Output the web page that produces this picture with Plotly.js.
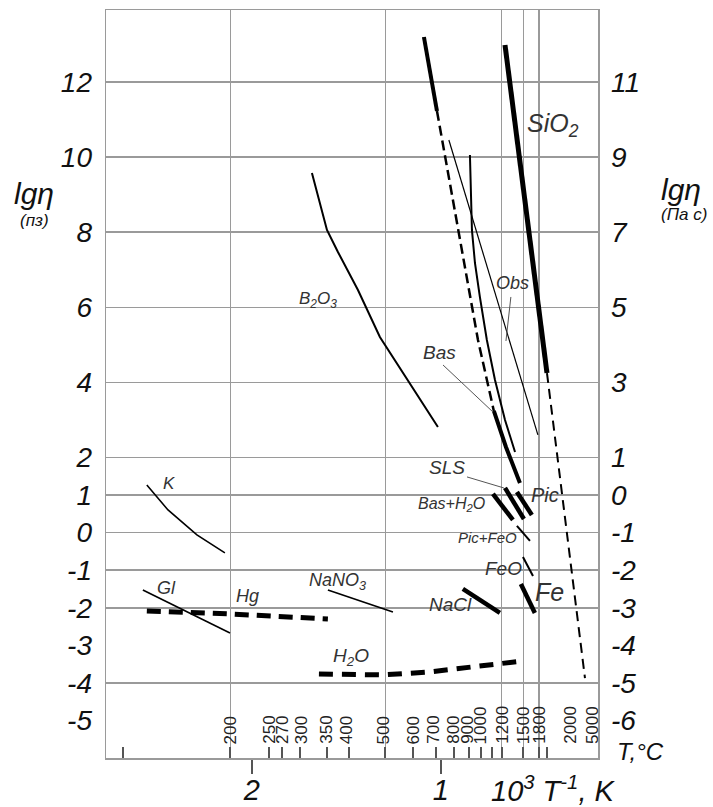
<!DOCTYPE html>
<html>
<head>
<meta charset="utf-8">
<script src="https://cdn.plot.ly/plotly-3.0.1.min.js"></script>
<style>
  html, body { margin: 0; padding: 0; background: #fff; }
  #chart { width: 713px; height: 807px; }
</style>
</head>
<body>
<div id="chart"></div>
<script>
// ---------- data (x = 10^3/T, K^-1 ; y = lg eta, poise) ----------
const sio2SolidX = [0.661, 0.439];
const sio2SolidY = [12.985, 4.25];
const sio2DashX = [0.439, 0.238];
const sio2DashY = [4.25, -3.87];

const basTopX = [1.090, 1.021];
const basTopY = [13.198, 11.228];
const basDashX = [1.021, 0.894, 0.804, 0.720];
const basDashY = [11.228, 7.607, 5.131, 3.241];
const basLowX = [0.720, 0.656, 0.582];
const basLowY = [3.241, 2.282, 1.324];

const midCurveX = [0.8466, 0.8413, 0.836, 0.820, 0.794, 0.757, 0.714, 0.661, 0.608];
const midCurveY = [10.056, 8.858, 8.06, 7.181, 6.276, 5.131, 4.066, 3.001, 2.149];

const obsX = [0.958, 0.720, 0.487];
const obsY = [10.456, 6.463, 2.602];

const b2o3X = [1.6825, 1.640, 1.603, 1.545, 1.439, 1.323, 1.175, 1.016];
const b2o3Y = [9.577, 8.805, 8.06, 7.474, 6.462, 5.211, 4.066, 2.815];

const kX = [2.556, 2.444, 2.291, 2.143];
const kY = [1.270, 0.605, -0.061, -0.540];
const glX = [2.577, 2.116];
const glY = [-1.525, -2.670];
const hgX = [2.556, 2.116, 1.598];
const hgY = [-2.084, -2.164, -2.297];
const nano3X = [1.598, 1.254];
const nano3Y = [-1.525, -2.111];
const h2oX = [1.6455, 1.307, 1.058, 0.847, 0.688, 0.566];
const h2oY = [-3.761, -3.788, -3.708, -3.575, -3.495, -3.415];

const basH2oX = [0.7249, 0.619];
const basH2oY = [1.031, 0.339];
const slsX = [0.661, 0.561];
const slsY = [1.191, 0.365];
const picX = [0.598, 0.519];
const picY = [1.084, 0.472];
const picFeoX = [0.598, 0.529];
const picFeoY = [0.179, -0.221];
const feoX = [0.566, 0.513];
const feoY = [-0.647, -1.152];
const feX = [0.577, 0.503];
const feY = [-1.365, -2.137];
const naclX = [0.884, 0.688];
const naclY = [-1.498, -2.137];

// leader lines
const basLeadX = [0.989, 0.725];
const basLeadY = [4.465, 3.214];
const obsLeadX = [0.630, 0.656];
const obsLeadY = [6.276, 5.104];
const slsLeadX = [0.862, 0.667];
const slsLeadY = [1.484, 1.191];

// axes
const leftLabels = [12, 10, 8, 6, 4, 2, 1, 0, -1, -2, -3, -4, -5];
const rightLabels = [11, 9, 7, 5, 3, 1, 0, -1, -2, -3, -4, -5, -6];
const gridLevels = [12, 10, 8, 6, 4, 2, 1, 0, -1, -2, -4];
const invTicks = [2, 1];
const tempTicksC = [100, 200, 250, 270, 300, 350, 400, 500, 600, 700, 800, 900, 1000, 1100, 1200, 1500, 1800, 2000];
const tempLabelsC = [200, 250, 270, 300, 350, 400, 500, 600, 700, 800, 900, 1000, 1200, 1500, 1800, 2000, 5000];
const tempLabelShift = [0, 0, 0, 1, -1, -3, -2, 0, -3, -1, -2, -1, 0, 0, 0, 23, -2];
const tempGridC = [200, 500, 1200, 1500, 1800];

const curveLabels = [
  {t: 'SiO<sub>2</sub>', x: 0.407, y: 10.855, s: 25},
  {t: 'B<sub>2</sub>O<sub>3</sub>', x: 1.651, y: 6.196, s: 17},
  {t: 'Obs', x: 0.624, y: 6.65, s: 18},
  {t: 'Bas', x: 1.005, y: 4.785, s: 19},
  {t: 'SLS', x: 0.968, y: 1.723, s: 19},
  {t: 'Pic', x: 0.450, y: 1.004, s: 20},
  {t: 'Bas+H<sub>2</sub>O', x: 0.942, y: 0.738, s: 16},
  {t: 'Pic+FeO', x: 0.751, y: -0.141, s: 15},
  {t: 'FeO', x: 0.667, y: -0.966, s: 19},
  {t: 'Fe', x: 0.423, y: -1.578, s: 25},
  {t: 'NaCl', x: 0.947, y: -1.924, s: 19},
  {t: 'K', x: 2.439, y: 1.297, s: 17},
  {t: 'Gl', x: 2.450, y: -1.472, s: 18},
  {t: 'Hg', x: 2.021, y: -1.685, s: 18},
  {t: 'NaNO<sub>3</sub>', x: 1.545, y: -1.312, s: 18},
  {t: 'H<sub>2</sub>O', x: 1.476, y: -3.309, s: 19}
];

// ---------- helpers ----------
const toInv = c => 1000 / (c + 273.15);
const FONT = 'Liberation Sans, Arial, sans-serif';
const X_RANGE = [2.772, 0.169];
const Y_RANGE = [-6.0, 13.917];

function line(x, y, w, dash, color) {
  return {x: x, y: y, type: 'scatter', mode: 'lines', hoverinfo: 'skip', showlegend: false,
          line: {color: color || '#000', width: w, dash: dash || 'solid'}};
}

const traces = [
  line(sio2SolidX, sio2SolidY, 5),
  line(sio2DashX, sio2DashY, 2, '10px,6px'),
  line(basTopX, basTopY, 4),
  line(basDashX, basDashY, 2.5, '10px,5px'),
  line(basLowX, basLowY, 4),
  line(midCurveX, midCurveY, 2),
  line(obsX, obsY, 1.2),
  line(b2o3X, b2o3Y, 2),
  line(kX, kY, 1.6),
  line(glX, glY, 1.6),
  line(hgX, hgY, 5, '14px,8px'),
  line(nano3X, nano3Y, 1.6),
  line(h2oX, h2oY, 5, '14px,9px'),
  line(basH2oX, basH2oY, 4.5),
  line(slsX, slsY, 4.5),
  line(picX, picY, 4.5),
  line(picFeoX, picFeoY, 2),
  line(feoX, feoY, 2),
  line(feX, feY, 4.5),
  line(naclX, naclY, 4.5),
  line(basLeadX, basLeadY, 1, 'solid', '#555'),
  line(obsLeadX, obsLeadY, 1, 'solid', '#555'),
  line(slsLeadX, slsLeadY, 1, 'solid', '#555'),
  // dummy traces so overlay axes are drawn
  {x: [null], y: [null], xaxis: 'x2', yaxis: 'y', type: 'scatter', mode: 'lines', showlegend: false, hoverinfo: 'skip'},
  {x: [null], y: [null], xaxis: 'x3', yaxis: 'y', type: 'scatter', mode: 'lines', showlegend: false, hoverinfo: 'skip'},
  {x: [null], y: [null], xaxis: 'x', yaxis: 'y2', type: 'scatter', mode: 'lines', showlegend: false, hoverinfo: 'skip'},
  {x: [null], y: [null], xaxis: 'x', yaxis: 'y3', type: 'scatter', mode: 'lines', showlegend: false, hoverinfo: 'skip'}
];

const annotations = [];
curveLabels.forEach(l => annotations.push({
  text: l.t, x: l.x, y: l.y, xref: 'x', yref: 'y', showarrow: false,
  xanchor: 'center', yanchor: 'middle',
  font: {family: FONT, size: l.s, color: '#333', style: 'italic'}
}));
tempLabelsC.forEach((c, i) => annotations.push({
  text: String(c), x: toInv(c), xref: 'x', y: 0, yref: 'paper', yshift: 12,
  xshift: tempLabelShift[i], yanchor: 'bottom', xanchor: 'center', textangle: -90, showarrow: false,
  font: {family: FONT, size: 17, color: '#222'}
}));
const titleFont = s => ({family: FONT, size: s, color: '#111', style: 'italic'});
function paperText(text, x, y, size) {
  return {text: text, x: x, y: y, xref: 'paper', yref: 'paper', showarrow: false,
          xanchor: 'center', yanchor: 'middle', font: titleFont(size)};
}
annotations.push(
  paperText('lgη', -0.146, 0.755, 30),
  paperText('(пз)', -0.146, 0.718, 17),
  paperText('lgη', 1.169, 0.760, 30),
  paperText('(Па с)', 1.175, 0.726, 17),
  paperText('10<sup>3</sup> T<sup>-1</sup>, K', 0.909, -0.042, 29),
  paperText('T,°C', 1.087, 0.009, 24)
);

const GRID = '#9a9a9a';
const layout = {
  width: 713, height: 807,
  margin: {l: 106, r: 115, t: 10, b: 49, pad: 0},
  paper_bgcolor: '#fff', plot_bgcolor: '#fff',
  showlegend: false,
  xaxis: {
    range: X_RANGE, tickmode: 'array', tickvals: invTicks, ticktext: invTicks.map(String),
    ticks: 'outside', ticklen: 14, tickwidth: 2, tickcolor: '#555',
    showgrid: false, zeroline: false, showline: true, mirror: true, linecolor: GRID, linewidth: 1.5,
    tickfont: {family: FONT, size: 29, color: '#111', style: 'italic'}, ticklabelstandoff: -8
  },
  xaxis2: {
    overlaying: 'x', anchor: 'y', side: 'bottom', range: X_RANGE,
    tickmode: 'array', tickvals: tempTicksC.map(toInv), ticks: 'inside', ticklen: 11, tickwidth: 2,
    tickcolor: '#555', showticklabels: false, showgrid: false, zeroline: false, showline: false
  },
  xaxis3: {
    overlaying: 'x', anchor: 'y', side: 'bottom', range: X_RANGE,
    tickmode: 'array', tickvals: tempGridC.map(toInv), ticks: '', showticklabels: false,
    showgrid: true, gridcolor: GRID, gridwidth: 1.5, zeroline: false, showline: false
  },
  yaxis: {
    range: Y_RANGE, tickmode: 'array', tickvals: gridLevels, ticks: '', showticklabels: false,
    showgrid: true, gridcolor: GRID, gridwidth: 1.5, zeroline: false,
    showline: true, mirror: true, linecolor: GRID, linewidth: 1.5
  },
  yaxis2: {
    overlaying: 'y', anchor: 'x', side: 'right', range: [Y_RANGE[0] - 1, Y_RANGE[1] - 1],
    tickmode: 'array', tickvals: rightLabels, ticktext: rightLabels.map(String), ticks: '',
    showgrid: false, zeroline: false, showline: false, ticklabelstandoff: 12,
    tickfont: {family: FONT, size: 28, color: '#111', style: 'italic'}
  },
  yaxis3: {
    overlaying: 'y', anchor: 'x', side: 'left', range: Y_RANGE,
    tickmode: 'array', tickvals: leftLabels, ticktext: leftLabels.map(String), ticks: '',
    showgrid: false, zeroline: false, showline: false, ticklabelstandoff: 13,
    tickfont: {family: FONT, size: 28, color: '#111', style: 'italic'}
  },
  annotations: annotations
};

Plotly.newPlot('chart', traces, layout, {staticPlot: true, displayModeBar: false});
</script>
</body>
</html>
